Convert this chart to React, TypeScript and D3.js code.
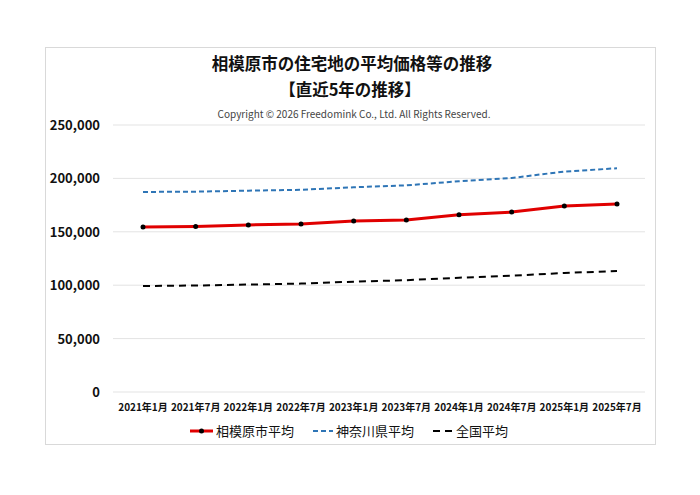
import React from "react";
import * as d3 from "d3";

const categories = ["2021年1月","2021年7月","2022年1月","2022年7月","2023年1月","2023年7月","2024年1月","2024年7月","2025年1月","2025年7月"];
const sagamihara = [154500,155000,156400,157300,160100,161000,165900,168500,174100,176000];
const kanagawa = [187300,187600,188500,189300,191700,193500,197400,200400,206400,209500];
const national = [99200,99700,100600,101500,103300,104700,107000,108900,111400,113300];
const yTicks = [0,50000,100000,150000,200000,250000];

const W = 700, H = 495;
const font = "'Noto Sans CJK JP', 'Noto Sans', sans-serif";

export default function App() {
  const x = d3.scalePoint<string>().domain(categories).range([143, 617]);
  const y = d3.scaleLinear().domain([0, 250000]).range([392, 125]);
  const line = (vals: number[]) =>
    d3.line<number>().x((_, i) => x(categories[i])!).y(d => y(d))(vals)!;
  const fmt = d3.format(",");
  return (
    <svg width={W} height={H} style={{ position: "absolute", left: 0, top: 0, background: "#fff" }} fontFamily={font}>
      <rect x={0} y={0} width={W} height={H} fill="#fff" />
      <rect x={45.5} y={47.5} width={610} height={397} fill="#fff" stroke="#d9d9d9" />
      <text x={352} y={70} textAnchor="middle" fontSize={16.5} fontWeight="bold" fill="#111">相模原市の住宅地の平均価格等の推移</text>
      <text x={350} y={96} textAnchor="middle" fontSize={16.5} fontWeight="bold" fill="#111">【直近5年の推移】</text>
      <text x={354} y={118} textAnchor="middle" fontSize={10} fill="#444">Copyright © 2026 Freedomink Co., Ltd. All Rights Reserved.</text>
      {yTicks.map(t => (
        <g key={t}>
          <line x1={113} x2={645} y1={y(t)} y2={y(t)} stroke="#e3e3e3" strokeWidth={1} />
          <text x={100} y={y(t) + 5} textAnchor="end" fontSize={13} fontWeight="bold" fill="#111">{fmt(t)}</text>
        </g>
      ))}
      {categories.map(c => (
        <text key={c} x={x(c)} y={411} textAnchor="middle" fontSize={10} fontWeight="bold" fill="#111">{c}</text>
      ))}
      <path d={line(national)} fill="none" stroke="#000" strokeWidth={2} strokeDasharray="7,5" />
      <path d={line(kanagawa)} fill="none" stroke="#2e75b6" strokeWidth={2} strokeDasharray="5,3" />
      <path d={line(sagamihara)} fill="none" stroke="#e00000" strokeWidth={3} />
      {sagamihara.map((v, i) => (
        <circle key={i} cx={x(categories[i])} cy={y(v)} r={2.5} fill="#000" />
      ))}
      {/* legend */}
      <line x1={190} x2={213} y1={431} y2={431} stroke="#e00000" strokeWidth={3} />
      <circle cx={201.5} cy={431} r={2.5} fill="#000" />
      <text x={216} y={436} fontSize={13} fill="#111">相模原市平均</text>
      <line x1={313} x2={333} y1={431} y2={431} stroke="#2e75b6" strokeWidth={2} strokeDasharray="5,3" />
      <text x={336} y={436} fontSize={13} fill="#111">神奈川県平均</text>
      <line x1={433} x2={453} y1={431} y2={431} stroke="#000" strokeWidth={2} strokeDasharray="7,5" />
      <text x={456} y={436} fontSize={13} fill="#111">全国平均</text>
    </svg>
  );
}
